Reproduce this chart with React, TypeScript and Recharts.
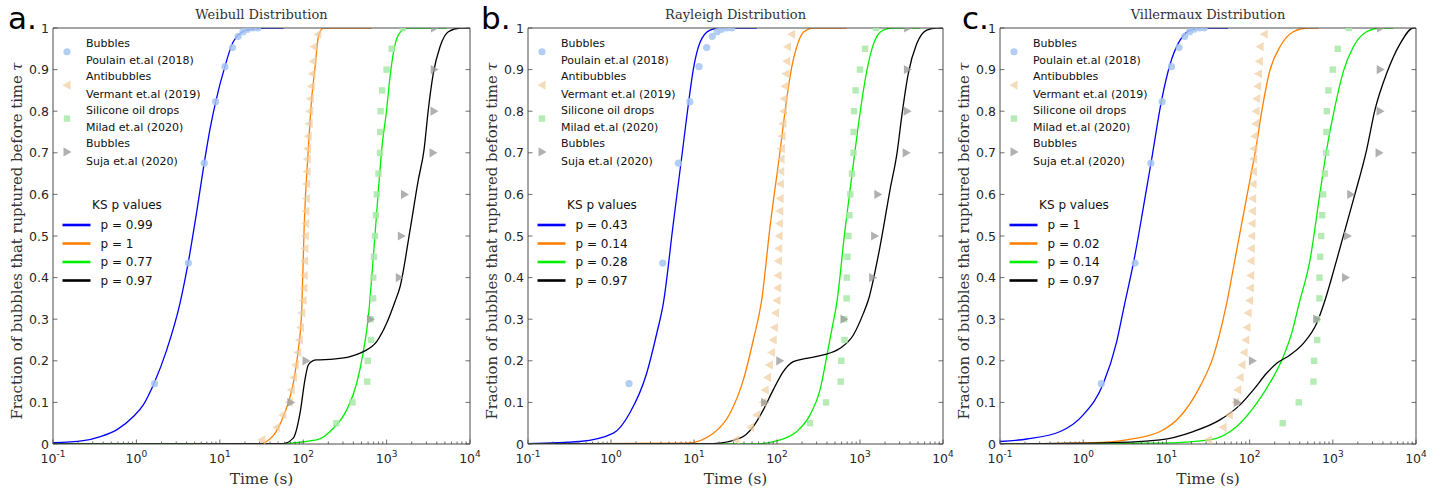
import React from "react";
import { ComposedChart, Line, Scatter, XAxis, YAxis, Legend } from "recharts";

// ---- axes ----
const decades = [0.1, 1, 10, 100, 1000, 10000];
const decadeExponents = ["-1", "0", "1", "2", "3", "4"];
const minorMultiples = [2, 3, 4, 5, 6, 7, 8, 9];
const timeTicks = decades.flatMap((d, i) =>
  i < decades.length - 1 ? [d, ...minorMultiples.map((m) => d * m)] : [d]
);
const fractionTicks = [0, 0.1, 0.2, 0.3, 0.4, 0.5, 0.6, 0.7, 0.8, 0.9, 1];
const fractionLabels = ["0", "0.1", "0.2", "0.3", "0.4", "0.5", "0.6", "0.7", "0.8", "0.9", "1"];

// ---- measured data (same in every panel) ----
const poulainT = [1.65, 4.2, 6.5, 8.9, 11.5, 14.2, 16.6, 19, 21.5, 25, 28.5];
const poulainF = [0.145, 0.435, 0.675, 0.823, 0.907, 0.953, 0.98, 0.991, 0.997, 1, 1];

const vermantT = [32, 48, 57, 68, 72, 77, 81, 86, 90, 93, 96, 100, 102, 103, 104, 105, 106, 107, 108, 109, 110, 111, 112, 113, 115, 118, 120, 122, 125, 128, 131, 134, 150];
const vermantF = [0.01, 0.04, 0.07, 0.1, 0.13, 0.16, 0.19, 0.22, 0.25, 0.28, 0.315, 0.345, 0.375, 0.405, 0.44, 0.47, 0.5, 0.53, 0.56, 0.59, 0.625, 0.655, 0.685, 0.71, 0.74, 0.77, 0.8, 0.83, 0.86, 0.89, 0.92, 0.955, 0.985];

const miladT = [250, 390, 585, 595, 650, 645, 690, 692, 705, 725, 745, 765, 800, 835, 838, 848, 885, 1000, 1150, 1560];
const miladF = [0.05, 0.1, 0.15, 0.2, 0.25, 0.3, 0.35, 0.4, 0.45, 0.5, 0.55, 0.6, 0.65, 0.7, 0.75, 0.8, 0.85, 0.9, 0.95, 1];

const sujaT = [71, 108, 640, 1420, 1500, 1640, 3600, 3700, 3720, 3750];
const sujaF = [0.1, 0.2, 0.3, 0.4, 0.5, 0.6, 0.7, 0.8, 0.9, 1];

// ---- fitted CDFs ----
const weibullBlueT = [0.1, 0.23, 0.37, 0.58, 0.92, 1.21, 1.63, 2.3, 3.33, 4.19, 5.3, 6.5, 7.6, 8.94, 11.5, 14.5, 21, 36, 58];
const weibullBlueF = [0.003, 0.008, 0.018, 0.034, 0.066, 0.094, 0.146, 0.225, 0.338, 0.437, 0.56, 0.675, 0.755, 0.823, 0.907, 0.967, 0.995, 1, 1];
const weibullOrangeT = [0.1, 30, 43.7, 57.7, 76, 87.3, 96, 103, 115, 126, 139, 152, 174, 660];
const weibullOrangeF = [0, 0.001, 0.02, 0.066, 0.146, 0.226, 0.322, 0.53, 0.707, 0.827, 0.907, 0.979, 1, 1];
const weibullGreenT = [0.1, 40, 145, 230, 333, 438, 526, 604, 693, 795, 873, 1000, 1100, 1203, 1380, 1743, 5250];
const weibullGreenF = [0, 0, 0.01, 0.038, 0.082, 0.146, 0.222, 0.306, 0.45, 0.607, 0.707, 0.803, 0.883, 0.939, 0.983, 1, 1];
const weibullBlackT = [0.1, 57.7, 76, 91.6, 105, 115, 130, 145, 230, 364, 526, 760, 1000, 1259, 1450, 1910, 2400, 2810, 3160, 3630, 4370, 5500, 7600, 10000];
const weibullBlackF = [0, 0.001, 0.014, 0.074, 0.155, 0.19, 0.2, 0.202, 0.204, 0.21, 0.222, 0.246, 0.29, 0.342, 0.378, 0.514, 0.635, 0.707, 0.803, 0.891, 0.955, 0.991, 1, 1];

const rayleighBlueT = [0.1, 0.42, 1.07, 1.69, 2.69, 3.55, 4.27, 5.63, 7.43, 8.53, 9.8, 11.8, 15.6, 20.6, 57];
const rayleighBlueF = [0.001, 0.006, 0.026, 0.075, 0.17, 0.265, 0.338, 0.53, 0.72, 0.815, 0.9, 0.965, 0.995, 1, 1];
const rayleighOrangeT = [0.1, 8.2, 17.1, 27.2, 39.3, 51.8, 65.3, 82.4, 109, 131, 150, 173, 208, 274, 692];
const rayleighOrangeF = [0, 0.002, 0.026, 0.074, 0.154, 0.25, 0.345, 0.522, 0.705, 0.83, 0.905, 0.955, 0.99, 1, 1];
const rayleighGreenT = [0.1, 52, 109, 173, 250, 330, 397, 456, 524, 659, 871, 1000, 1203, 1445, 1900, 2500, 5280];
const rayleighGreenF = [0, 0, 0.01, 0.03, 0.07, 0.13, 0.21, 0.274, 0.338, 0.514, 0.705, 0.795, 0.895, 0.96, 0.995, 1, 1];
const rayleighBlackT = [0.1, 17, 35.8, 51.8, 68.4, 90, 119, 157, 227, 361, 574, 832, 1097, 1260, 1740, 2300, 2810, 3180, 3820, 4820, 6370, 8400, 10000];
const rayleighBlackF = [0, 0.001, 0.014, 0.042, 0.082, 0.13, 0.174, 0.198, 0.206, 0.214, 0.23, 0.262, 0.314, 0.346, 0.474, 0.611, 0.703, 0.787, 0.891, 0.962, 0.995, 1, 1];

const villermauxBlueT = [0.1, 0.21, 0.53, 1.0, 1.75, 2.52, 3.1, 4.15, 5.3, 6.65, 8.77, 11, 14.6, 21, 30.5, 55];
const villermauxBlueF = [0.006, 0.012, 0.03, 0.07, 0.146, 0.245, 0.33, 0.45, 0.57, 0.685, 0.827, 0.911, 0.971, 0.997, 1, 1];
const villermauxOrangeT = [0.1, 1.32, 3.33, 8.4, 14.6, 25.3, 36.6, 52, 70, 101, 120, 140, 176, 232, 335, 485, 670];
const villermauxOrangeF = [0, 0.003, 0.01, 0.03, 0.066, 0.138, 0.21, 0.33, 0.466, 0.635, 0.715, 0.8, 0.899, 0.955, 0.991, 1, 1];
const villermauxGreenT = [0.1, 8.4, 33.4, 70, 122, 184, 254, 320, 394, 532, 701, 843, 1062, 1337, 1766, 2550, 3690, 5330];
const villermauxGreenF = [0, 0.002, 0.01, 0.042, 0.098, 0.154, 0.21, 0.266, 0.338, 0.442, 0.603, 0.707, 0.811, 0.895, 0.955, 0.991, 1, 1];
const villermauxBlackT = [0.1, 1.32, 8.4, 21, 44, 76.7, 111, 160, 212, 306, 443, 640, 790, 1112, 1766, 2550, 3210, 4440, 6430, 9290, 10000];
const villermauxBlackF = [0, 0.002, 0.01, 0.03, 0.058, 0.094, 0.13, 0.17, 0.194, 0.214, 0.242, 0.29, 0.34, 0.442, 0.587, 0.707, 0.803, 0.891, 0.962, 1, 1];

const weibullP = ["0.99", "1", "0.77", "0.97"];
const rayleighP = ["0.43", "0.14", "0.28", "0.97"];
const villermauxP = ["1", "0.02", "0.14", "0.97"];

const datasetNames = ["Bubbles", "Antibubbles", "Silicone oil drops", "Bubbles"];
const datasetSources = ["Poulain et.al (2018)", "Vermant et.al (2019)", "Milad et.al (2020)", "Suja et.al (2020)"];

const curveColors = ["#0000ff", "#ff8000", "#00ee00", "#000000"];
const AXIS = "#4a4a4a";
const TEXT = "#262626";

const pts = (t: number[], f: number[]) => t.map((v, i) => ({ t: v, F: f[i] }));

// ---- markers ----
const Dot = ({ cx, cy }: any) => <circle cx={cx} cy={cy} r={3.6} fill="#a6c6f0" fillOpacity={0.85} />;
const LeftTri = ({ cx, cy }: any) => (
  <polygon points={`${cx - 4.5},${cy} ${cx + 3.5},${cy - 4.6} ${cx + 3.5},${cy + 4.6}`} fill="#f0cc9c" fillOpacity={0.7} />
);
const Sq = ({ cx, cy }: any) => <rect x={cx - 3.2} y={cy - 3.2} width={6.4} height={6.4} fill="#a8e8a8" fillOpacity={0.85} />;
const RightTri = ({ cx, cy }: any) => (
  <polygon points={`${cx + 4.5},${cy} ${cx - 3.5},${cy - 4.6} ${cx - 3.5},${cy + 4.6}`} fill="#9c9c9c" fillOpacity={0.8} />
);
const markerShapes = [Dot, LeftTri, Sq, RightTri];

// ---- ticks (drawn inside the box, MATLAB style) ----
const decadeIndex = (v: number) => decades.findIndex((d) => Math.abs(d - v) / d < 1e-6);

function BottomTick({ x, y, payload }: any) {
  const k = decadeIndex(payload.value);
  return (
    <g>
      <line x1={x} x2={x} y1={y} y2={y - (k >= 0 ? 4.5 : 2.5)} stroke={AXIS} strokeWidth={0.8} />
      {k >= 0 && (
        <text x={x} y={y + 19} textAnchor="middle" fontFamily="DejaVu Sans" fontSize={12.5} fill={TEXT}>
          10<tspan dy={-6.5} fontSize={9}>{decadeExponents[k]}</tspan>
        </text>
      )}
    </g>
  );
}

function TopTick({ x, y, payload }: any) {
  const k = decadeIndex(payload.value);
  return <line x1={x} x2={x} y1={y} y2={y + (k >= 0 ? 4.5 : 2.5)} stroke={AXIS} strokeWidth={0.8} />;
}

function LeftTick({ x, y, payload }: any) {
  const i = fractionTicks.indexOf(payload.value);
  return (
    <g>
      <line x1={x} x2={x + 4.5} y1={y} y2={y} stroke={AXIS} strokeWidth={0.8} />
      <text x={x - 4} y={y} dy="0.36em" textAnchor="end" fontFamily="DejaVu Sans" fontSize={12.5} fill={TEXT}>
        {fractionLabels[i]}
      </text>
    </g>
  );
}

function RightTick({ x, y }: any) {
  return <line x1={x} x2={x - 4.5} y1={y} y2={y} stroke={AXIS} strokeWidth={0.8} />;
}

function PanelLegend({ pValues }: { pValues: string[] }) {
  return (
    <svg width={200} height={270} style={{ display: "block", overflow: "visible" }}>
      {datasetNames.map((name, i) => {
        const y = 15 + i * 33.4;
        const Marker = markerShapes[i];
        return (
          <g key={i} fontFamily="DejaVu Sans" fontSize={11} fill="#111">
            <text x={33} y={y} dy="0.36em">{name}</text>
            <text x={33} y={y + 17.5} dy="0.36em">{datasetSources[i]}</text>
            <Marker cx={14} cy={y + 8.75} />
          </g>
        );
      })}
      <text x={74} y={177} dy="0.36em" textAnchor="middle" fontFamily="DejaVu Sans" fontSize={12} fill="#111">
        KS p values
      </text>
      {pValues.map((p, i) => {
        const y = 197 + i * 18.5;
        return (
          <g key={i}>
            <line x1={9.5} x2={37.5} y1={y} y2={y} stroke={curveColors[i]} strokeWidth={2.6} />
            <text x={47.5} y={y} dy="0.36em" fontFamily="DejaVu Sans" fontSize={12} fill="#111">
              p = {p}
            </text>
          </g>
        );
      })}
    </svg>
  );
}

type PanelProps = {
  letter: string;
  letterX: number;
  title: string;
  left: number;
  width: number;
  plotLeft: number;
  plotRight: number;
  curves: { t: number[]; f: number[] }[];
  pValues: string[];
};

const panels: PanelProps[] = [
  {
    letter: "a.", letterX: 8, title: "Weibull Distribution", left: 0, width: 500, plotLeft: 53, plotRight: 470,
    curves: [
      { t: weibullBlueT, f: weibullBlueF }, { t: weibullOrangeT, f: weibullOrangeF },
      { t: weibullGreenT, f: weibullGreenF }, { t: weibullBlackT, f: weibullBlackF },
    ],
    pValues: weibullP,
  },
  {
    letter: "b.", letterX: 481, title: "Rayleigh Distribution", left: 470, width: 500, plotLeft: 528, plotRight: 943,
    curves: [
      { t: rayleighBlueT, f: rayleighBlueF }, { t: rayleighOrangeT, f: rayleighOrangeF },
      { t: rayleighGreenT, f: rayleighGreenF }, { t: rayleighBlackT, f: rayleighBlackF },
    ],
    pValues: rayleighP,
  },
  {
    letter: "c.", letterX: 962, title: "Villermaux Distribution", left: 948, width: 495, plotLeft: 1000, plotRight: 1416,
    curves: [
      { t: villermauxBlueT, f: villermauxBlueF }, { t: villermauxOrangeT, f: villermauxOrangeF },
      { t: villermauxGreenT, f: villermauxGreenF }, { t: villermauxBlackT, f: villermauxBlackF },
    ],
    pValues: villermauxP,
  },
];

const PLOT_TOP = 28;
const PLOT_BOTTOM = 444;
const HEIGHT = 489;

function Panel(p: PanelProps) {
  // every axis is 1px thick, so the margins give the plot box exactly
  const margin = {
    top: PLOT_TOP - 1,
    bottom: HEIGHT - PLOT_BOTTOM - 1,
    left: p.plotLeft - p.left - 1,
    right: p.left + p.width - p.plotRight - 1,
  };
  const xCommon = {
    type: "number" as const,
    scale: "log" as const,
    domain: [0.1, 10000],
    allowDataOverflow: true,
    ticks: timeTicks,
    interval: 0 as const,
    tickLine: false,
    tickSize: 0,
    tickMargin: 0,
    height: 1,
    axisLine: { stroke: AXIS, strokeWidth: 1 },
  };
  const yCommon = {
    type: "number" as const,
    domain: [0, 1],
    allowDataOverflow: true,
    ticks: fractionTicks,
    interval: 0 as const,
    tickLine: false,
    tickSize: 0,
    tickMargin: 0,
    width: 1,
    axisLine: { stroke: AXIS, strokeWidth: 1 },
  };
  const localX = (pageX: number) => pageX - p.left;
  return (
    <div style={{ position: "absolute", left: p.left, top: 0 }}>
      <ComposedChart width={p.width} height={HEIGHT} margin={margin}>
        <XAxis
          {...xCommon}
          dataKey="t"
          tick={<BottomTick />}
          label={({ viewBox }: any) => (
            <text
              x={viewBox.x + viewBox.width / 2}
              y={PLOT_BOTTOM + 40}
              textAnchor="middle"
              fontFamily="DejaVu Serif"
              fontSize={15.4}
              fill="#333"
            >
              Time (s)
            </text>
          )}
        />
        <XAxis
          {...xCommon}
          xAxisId="top"
          orientation="top"
          tick={<TopTick />}
          label={({ viewBox }: any) => (
            <g>
              <text
                x={viewBox.x + viewBox.width / 2}
                y={PLOT_TOP - 9}
                textAnchor="middle"
                fontFamily="DejaVu Serif"
                fontSize={13}
                fill="#333"
              >
                {p.title}
              </text>
              <text x={localX(p.letterX)} y={29} fontFamily="DejaVu Sans" fontSize={31} fill="#000">
                {p.letter}
              </text>
            </g>
          )}
        />
        <YAxis
          {...yCommon}
          tick={<LeftTick />}
          label={() => {
            const cx = localX(p.plotLeft) - 37;
            const cy = 241;
            return (
              <text
                x={cx}
                y={cy}
                transform={`rotate(-90, ${cx}, ${cy})`}
                textAnchor="middle"
                dominantBaseline="central"
                fontFamily="DejaVu Serif"
                fontSize={14.8}
                fill="#333"
              >
                Fraction of bubbles that ruptured before time <tspan fontStyle="italic">τ</tspan>
              </text>
            );
          }}
        />
        <YAxis {...yCommon} yAxisId="right" orientation="right" tick={<RightTick />} />

        <Scatter data={pts(poulainT, poulainF)} dataKey="F" shape={Dot} isAnimationActive={false} />
        <Scatter data={pts(vermantT, vermantF)} dataKey="F" shape={LeftTri} isAnimationActive={false} />
        <Scatter data={pts(miladT, miladF)} dataKey="F" shape={Sq} isAnimationActive={false} />
        <Scatter data={pts(sujaT, sujaF)} dataKey="F" shape={RightTri} isAnimationActive={false} />

        {p.curves.map((c, i) => (
          <Line
            key={i}
            data={pts(c.t, c.f)}
            dataKey="F"
            type="monotone"
            stroke={curveColors[i]}
            strokeWidth={1.3}
            dot={false}
            activeDot={false}
            isAnimationActive={false}
          />
        ))}

        <Legend
          layout="horizontal"
          align="center"
          verticalAlign="middle"
          wrapperStyle={{ left: localX(p.plotLeft), top: PLOT_TOP, width: 200, height: 270 }}
          content={() => <PanelLegend pValues={p.pValues} />}
        />
      </ComposedChart>
    </div>
  );
}

export default function App() {
  return (
    <div style={{ position: "absolute", left: 0, top: 0, width: 1443, height: HEIGHT, background: "#fff" }}>
      {panels.map((p) => (
        <Panel key={p.letter} {...p} />
      ))}
    </div>
  );
}
